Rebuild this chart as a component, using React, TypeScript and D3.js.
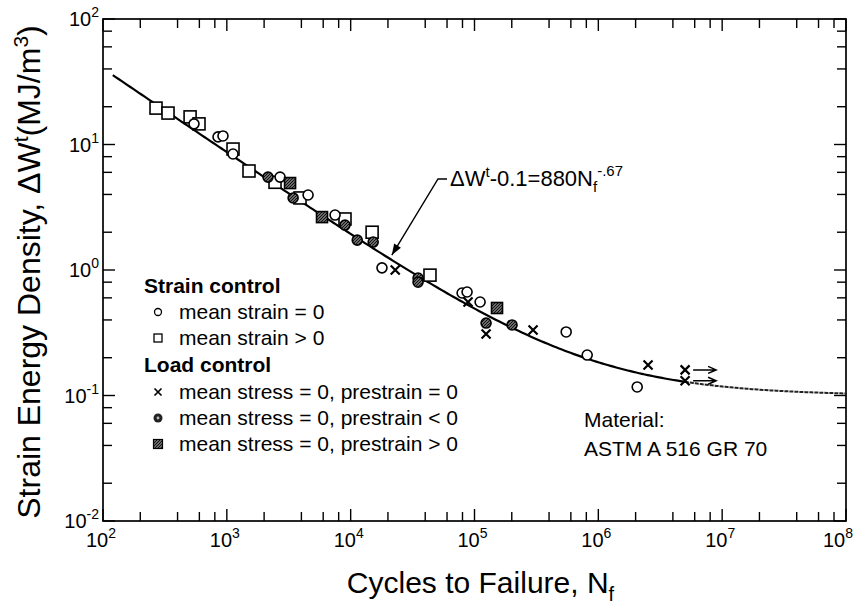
import * as d3 from "d3";
import { useEffect, useRef } from "react";

// ---- data ----
const xDecades = [2, 3, 4, 5, 6, 7, 8];
const yDecades = [-2, -1, 0, 1, 2];
const minorMult = [2, 4, 6, 8];

// strain control, mean strain = 0
const circleN = [543, 849, 931, 1122, 2690, 4530, 7480, 17900, 79400, 87100, 111000, 550000, 813000, 2060000];
const circleW = [14.6, 11.5, 11.7, 8.4, 5.5, 3.96, 2.74, 1.04, 0.656, 0.668, 0.556, 0.321, 0.21, 0.117];

// strain control, mean strain > 0
const squareN = [268, 335, 505, 596, 1122, 1510, 2450, 3900, 9000, 14900, 43700];
const squareW = [19.5, 17.8, 16.6, 14.6, 9.2, 6.15, 5.0, 3.75, 2.55, 2.0, 0.91];

// load control, prestrain = 0
const crossN = [22900, 88700, 124000, 297000, 2520000, 5020000, 5020000];
const crossW = [1.0, 0.556, 0.309, 0.333, 0.175, 0.16, 0.131];
const runoutIdx = [5, 6];

// load control, prestrain < 0
const dotN = [2150, 3430, 9000, 11300, 15200, 35000, 35000, 124000, 201000];
const dotW = [5.5, 3.75, 2.28, 1.73, 1.67, 0.863, 0.8, 0.378, 0.365];

// load control, prestrain > 0
const hatchN = [3240, 5870, 152000];
const hatchW = [4.93, 2.64, 0.498];

// fit: ΔW - 0.1 = 880 Nf^-0.67
const fitA = 880;
const fitB = -0.67;
const fitC = 0.1;
const fitStart = 120;
const fitSolidEnd = 5e6;
const fitEnd = 1e8;
const arrowN = 21500;

const legendLabels = [
  "mean strain = 0",
  "mean strain > 0",
  "mean stress = 0, prestrain = 0",
  "mean stress = 0, prestrain < 0",
  "mean stress = 0, prestrain > 0",
];

export default function App() {
  const ref = useRef<SVGSVGElement>(null);

  useEffect(() => {
    const width = 857;
    const height = 608;
    const left = 103, right = 846, top = 19, bottom = 521;
    const font = "'Liberation Sans', Arial, Helvetica, sans-serif";

    const svg = d3.select(ref.current);
    svg.selectAll("*").remove();
    svg.attr("viewBox", `0 0 ${width} ${height}`);

    const x = d3.scaleLog().domain([1e2, 1e8]).range([left, right]);
    const y = d3.scaleLog().domain([1e-2, 1e2]).range([bottom, top]);
    const fit = (n: number) => fitC + fitA * n ** fitB;

    // hatch pattern
    const defs = svg.append("defs");
    const pat = defs.append("pattern")
      .attr("id", "hatch")
      .attr("patternUnits", "userSpaceOnUse")
      .attr("width", 3).attr("height", 3);
    pat.append("rect").attr("width", 3).attr("height", 3).attr("fill", "#6a6a6a");
    pat.append("path").attr("d", "M0,3 L3,0").attr("stroke", "#111").attr("stroke-width", 1);

    const g = svg.append("g").attr("font-family", font);

    // ---- frame ----
    g.append("rect")
      .attr("x", left).attr("y", top)
      .attr("width", right - left).attr("height", bottom - top)
      .attr("fill", "none").attr("stroke", "#000").attr("stroke-width", 1.7);

    // ---- ticks (inward, all four sides) ----
    const majLen = 12, minLen = 9;
    const xMinor: number[] = [];
    xDecades.slice(0, -1).forEach((d) => minorMult.forEach((m) => xMinor.push(m * 10 ** d)));
    const yMinor: number[] = [];
    yDecades.slice(0, -1).forEach((d) => minorMult.forEach((m) => yMinor.push(m * 10 ** d)));
    const xMajor = xDecades.map((d) => 10 ** d);
    const yMajor = yDecades.map((d) => 10 ** d);

    const tk = g.append("g").attr("stroke", "#000").attr("stroke-width", 1.4);
    const xt = [...xMajor.map((v) => [v, majLen]), ...xMinor.map((v) => [v, minLen])];
    xt.forEach(([v, l]) => {
      tk.append("line").attr("x1", x(v)).attr("x2", x(v)).attr("y1", bottom).attr("y2", bottom - l);
      tk.append("line").attr("x1", x(v)).attr("x2", x(v)).attr("y1", top).attr("y2", top + l);
    });
    const yt = [...yMajor.map((v) => [v, majLen]), ...yMinor.map((v) => [v, minLen])];
    yt.forEach(([v, l]) => {
      tk.append("line").attr("y1", y(v)).attr("y2", y(v)).attr("x1", left).attr("x2", left + l);
      tk.append("line").attr("y1", y(v)).attr("y2", y(v)).attr("x1", right).attr("x2", right - l);
    });

    // ---- tick labels ----
    xDecades.forEach((d) => {
      const t = g.append("text")
        .attr("x", x(10 ** d) - (d === 8 ? 8 : 2)).attr("y", bottom + 26)
        .attr("text-anchor", "middle").attr("font-size", 20);
      t.append("tspan").text("10");
      t.append("tspan").attr("dy", -9).attr("font-size", 14).text(String(d));
    });
    yDecades.forEach((d) => {
      const t = g.append("text")
        .attr("x", left - 4).attr("y", y(10 ** d) + 7)
        .attr("text-anchor", "end").attr("font-size", 20);
      t.append("tspan").text("10");
      t.append("tspan").attr("dy", -9).attr("font-size", 14).text(String(d));
    });

    // ---- axis titles ----
    const xTitle = g.append("text")
      .attr("x", (left + right) / 2 + 6).attr("y", 593)
      .attr("text-anchor", "middle").attr("font-size", 30);
    xTitle.append("tspan").text("Cycles to Failure, N");
    xTitle.append("tspan").attr("dy", 8).attr("font-size", 20).text("f");

    const yTitle = g.append("text")
      .attr("transform", `translate(40,${(top + bottom) / 2 + 2}) rotate(-90)`)
      .attr("text-anchor", "middle").attr("font-size", 32);
    yTitle.append("tspan").text("Strain Energy Density, ΔW");
    yTitle.append("tspan").attr("dy", -12).attr("font-size", 21).text("t");
    yTitle.append("tspan").attr("dy", 12).text("(MJ/m");
    yTitle.append("tspan").attr("dy", -12).attr("font-size", 21).text("3");
    yTitle.append("tspan").attr("dy", 12).text(")");

    // ---- fit curve ----
    const logSpace = (a: number, b: number, k: number) =>
      d3.range(0, k + 1).map((i) => 10 ** (Math.log10(a) + (i / k) * (Math.log10(b) - Math.log10(a))));
    const fitLine = d3.line<number>().x((n) => x(n)).y((n) => y(fit(n)));
    g.append("path")
      .datum(logSpace(fitStart, fitSolidEnd, 200))
      .attr("d", fitLine)
      .attr("fill", "none").attr("stroke", "#000").attr("stroke-width", 2.2);
    g.append("path")
      .datum(logSpace(fitSolidEnd, fitEnd, 60))
      .attr("d", fitLine)
      .attr("fill", "none").attr("stroke", "#222").attr("stroke-width", 2)
      .attr("stroke-dasharray", "4,1");

    // ---- equation label + arrow ----
    const eqX = 450, eqY = 186;
    const eq = g.append("text").attr("x", eqX).attr("y", eqY).attr("font-size", 22);
    eq.append("tspan").text("ΔW");
    eq.append("tspan").attr("dy", -9).attr("font-size", 15).text("t");
    eq.append("tspan").attr("dy", 9).text("-0.1=880N");
    eq.append("tspan").attr("dy", 6).attr("font-size", 15).text("f");
    eq.append("tspan").attr("dy", -16).attr("font-size", 15).text("-.67");

    const tipX = x(arrowN), tipY = y(fit(arrowN)) - 5;
    const lx = eqX - 12, ly = eqY - 7;
    g.append("path")
      .attr("d", `M${eqX - 3},${ly} L${lx},${ly} L${tipX},${tipY}`)
      .attr("fill", "none").attr("stroke", "#000").attr("stroke-width", 1.4);
    const ang = Math.atan2(tipY - ly, tipX - lx);
    const ah = 11, aw = 4;
    const bx = tipX - ah * Math.cos(ang), by = tipY - ah * Math.sin(ang);
    g.append("path")
      .attr("d", `M${tipX},${tipY} L${bx + aw * Math.sin(ang)},${by - aw * Math.cos(ang)} L${bx - aw * Math.sin(ang)},${by + aw * Math.cos(ang)} Z`)
      .attr("fill", "#000");

    // ---- markers ----
    const pts = g.append("g");
    pts.selectAll(".sq")
      .data(squareN.map((n, i) => [n, squareW[i]]))
      .join("rect")
      .attr("x", (d) => x(d[0]) - 6).attr("y", (d) => y(d[1]) - 6)
      .attr("width", 12).attr("height", 12)
      .attr("fill", "#fff").attr("stroke", "#000").attr("stroke-width", 1.6);
    pts.selectAll(".ci")
      .data(circleN.map((n, i) => [n, circleW[i]]))
      .join("circle")
      .attr("cx", (d) => x(d[0])).attr("cy", (d) => y(d[1])).attr("r", 5)
      .attr("fill", "#fff").attr("stroke", "#000").attr("stroke-width", 1.6);
    pts.selectAll(".dt")
      .data(dotN.map((n, i) => [n, dotW[i]]))
      .join("circle")
      .attr("cx", (d) => x(d[0])).attr("cy", (d) => y(d[1])).attr("r", 5)
      .attr("fill", "url(#hatch)").attr("stroke", "#000").attr("stroke-width", 1.6);
    pts.selectAll(".hs")
      .data(hatchN.map((n, i) => [n, hatchW[i]]))
      .join("rect")
      .attr("x", (d) => x(d[0]) - 5.5).attr("y", (d) => y(d[1]) - 5.5)
      .attr("width", 11).attr("height", 11)
      .attr("fill", "url(#hatch)").attr("stroke", "#000").attr("stroke-width", 1.6);
    const cs = 4.5;
    crossN.forEach((n, i) => {
      const cx = x(n), cy = y(crossW[i]);
      pts.append("path")
        .attr("d", `M${cx - cs},${cy - cs} L${cx + cs},${cy + cs} M${cx - cs},${cy + cs} L${cx + cs},${cy - cs}`)
        .attr("stroke", "#000").attr("stroke-width", 2.2);
    });
    runoutIdx.forEach((i) => {
      const cx = x(crossN[i]) + 8, cy = y(crossW[i]);
      pts.append("path")
        .attr("d", `M${cx},${cy} L${cx + 22},${cy} M${cx + 15},${cy - 3.5} L${cx + 23},${cy} L${cx + 15},${cy + 3.5}`)
        .attr("fill", "none").attr("stroke", "#000").attr("stroke-width", 1.5);
    });

    // ---- legend ----
    const lg = g.append("g").attr("font-size", 21);
    const hx = 144, mx = 158, tx = 179;
    const headY = [285, 364];
    const rowY = [312, 338, 392, 418, 444];
    lg.append("text").attr("x", hx).attr("y", headY[0] + 8).attr("font-weight", 700).text("Strain control");
    lg.append("text").attr("x", hx).attr("y", headY[1] + 8).attr("font-weight", 700).text("Load control");
    legendLabels.forEach((s, i) => {
      lg.append("text").attr("x", tx).attr("y", rowY[i] + 7).text(s);
    });
    lg.append("circle").attr("cx", mx).attr("cy", rowY[0]).attr("r", 3.5)
      .attr("fill", "#fff").attr("stroke", "#000").attr("stroke-width", 1.3);
    lg.append("rect").attr("x", mx - 4).attr("y", rowY[1] - 4).attr("width", 8).attr("height", 8)
      .attr("fill", "#fff").attr("stroke", "#000").attr("stroke-width", 1.3);
    lg.append("path")
      .attr("d", `M${mx - 3.5},${rowY[2] - 3.5} L${mx + 3.5},${rowY[2] + 3.5} M${mx - 3.5},${rowY[2] + 3.5} L${mx + 3.5},${rowY[2] - 3.5}`)
      .attr("stroke", "#000").attr("stroke-width", 1.7);
    lg.append("circle").attr("cx", mx).attr("cy", rowY[3]).attr("r", 4.5).attr("fill", "#222");
    lg.append("circle").attr("cx", mx).attr("cy", rowY[3]).attr("r", 1.4).attr("fill", "#bbb");
    lg.append("rect").attr("x", mx - 4.5).attr("y", rowY[4] - 4.5).attr("width", 9).attr("height", 9)
      .attr("fill", "url(#hatch)").attr("stroke", "#000").attr("stroke-width", 1.2);

    // ---- material note ----
    g.append("text").attr("x", 584).attr("y", 427).attr("font-size", 21).text("Material:");
    g.append("text").attr("x", 584).attr("y", 456).attr("font-size", 21).text("ASTM A 516 GR 70");
  }, []);

  return (
    <svg
      ref={ref}
      width={857}
      height={608}
      style={{ position: "absolute", left: 0, top: 0, background: "#fff" }}
    />
  );
}
